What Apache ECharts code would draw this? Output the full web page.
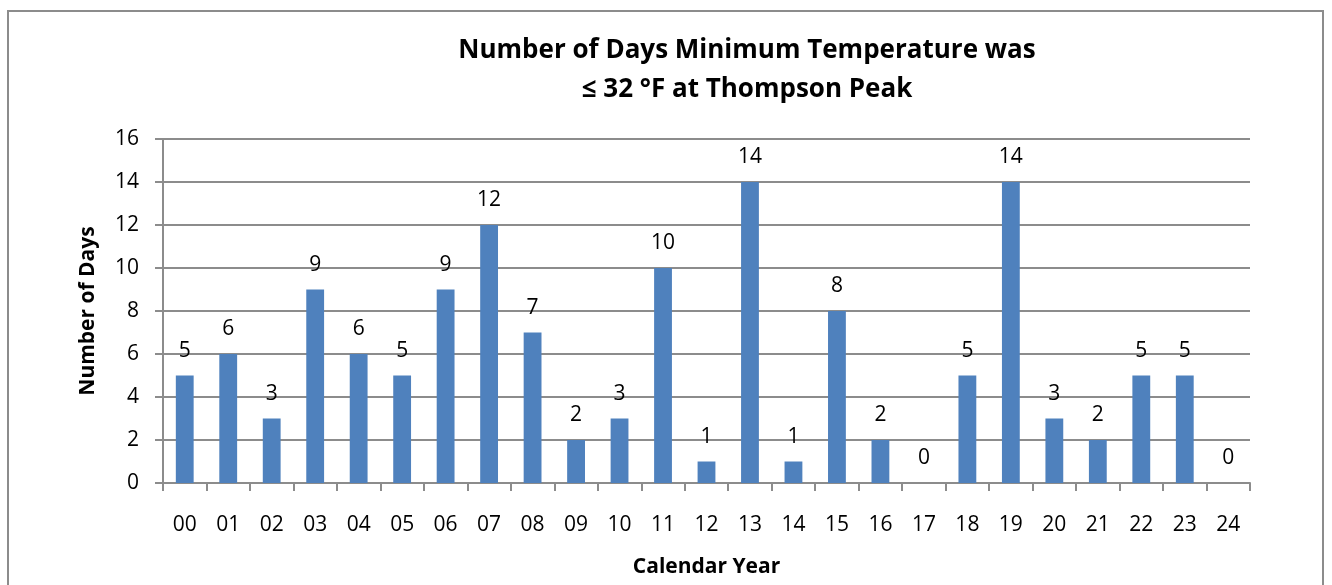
<!DOCTYPE html>
<html><head><meta charset="utf-8">
<script src="https://cdn.jsdelivr.net/npm/echarts@6/dist/echarts.min.js"></script>
<style>
html,body{margin:0;padding:0;background:#fff;}
#frame{position:absolute;left:7px;top:10px;width:1317px;height:600px;border:2px solid #8c8c8c;box-sizing:border-box;}
#c{position:absolute;left:0;top:0;width:1332px;height:585px;}
</style></head>
<body>
<div id="frame"></div>
<div id="c"></div>
<script>
const categories = ['00','01','02','03','04','05','06','07','08','09','10','11','12','13','14','15','16','17','18','19','20','21','22','23','24'];
const values = [5,6,3,9,6,5,9,12,7,2,3,10,1,14,1,8,2,0,5,14,3,2,5,5,0];
const yTicks = {min:0, max:16, interval:2};
const font = "'Open Sans', sans-serif";
const chart = echarts.init(document.getElementById('c'));
chart.setOption({
  animation:false,
  title:{
    text:'Number of Days Minimum Temperature was\n≤ 32 °F at Thompson Peak',
    left:742, top:26, textAlign:'center',
    textStyle:{fontFamily:font, fontSize:26, fontWeight:'bold', color:'#000', lineHeight:39}
  },
  grid:{left:163, right:82, top:139, bottom:102},
  xAxis:{
    type:'category', data:categories,
    name:'Calendar Year', nameLocation:'middle', nameGap:74,
    nameTextStyle:{fontFamily:font, fontSize:21, fontWeight:'bold', color:'#000'},
    axisLine:{lineStyle:{color:'#8c8c8c', width:2}},
    axisTick:{show:true, length:8, lineStyle:{color:'#8c8c8c', width:2}},
    axisLabel:{fontFamily:font, fontSize:21, color:'#000', margin:32},
    splitLine:{show:false}
  },
  yAxis:{
    type:'value', min:yTicks.min, max:yTicks.max, interval:yTicks.interval,
    name:'Number of Days', nameLocation:'middle', nameGap:64,
    nameTextStyle:{fontFamily:font, fontSize:21, fontWeight:'bold', color:'#000'},
    axisLine:{show:true, lineStyle:{color:'#8c8c8c', width:2}},
    axisTick:{show:true, length:8, lineStyle:{color:'#8c8c8c', width:2}},
    axisLabel:{fontFamily:font, fontSize:21, color:'#000', margin:24},
    splitLine:{show:true, lineStyle:{color:'#8c8c8c', width:2}}
  },
  series:[{
    type:'bar', data:values, barWidth:'41%',
    itemStyle:{color:'#4f81bd'},
    label:{show:true, position:'top', distance:14, fontFamily:font, fontSize:21, color:'#000'}
  }]
});
</script>
</body></html>
